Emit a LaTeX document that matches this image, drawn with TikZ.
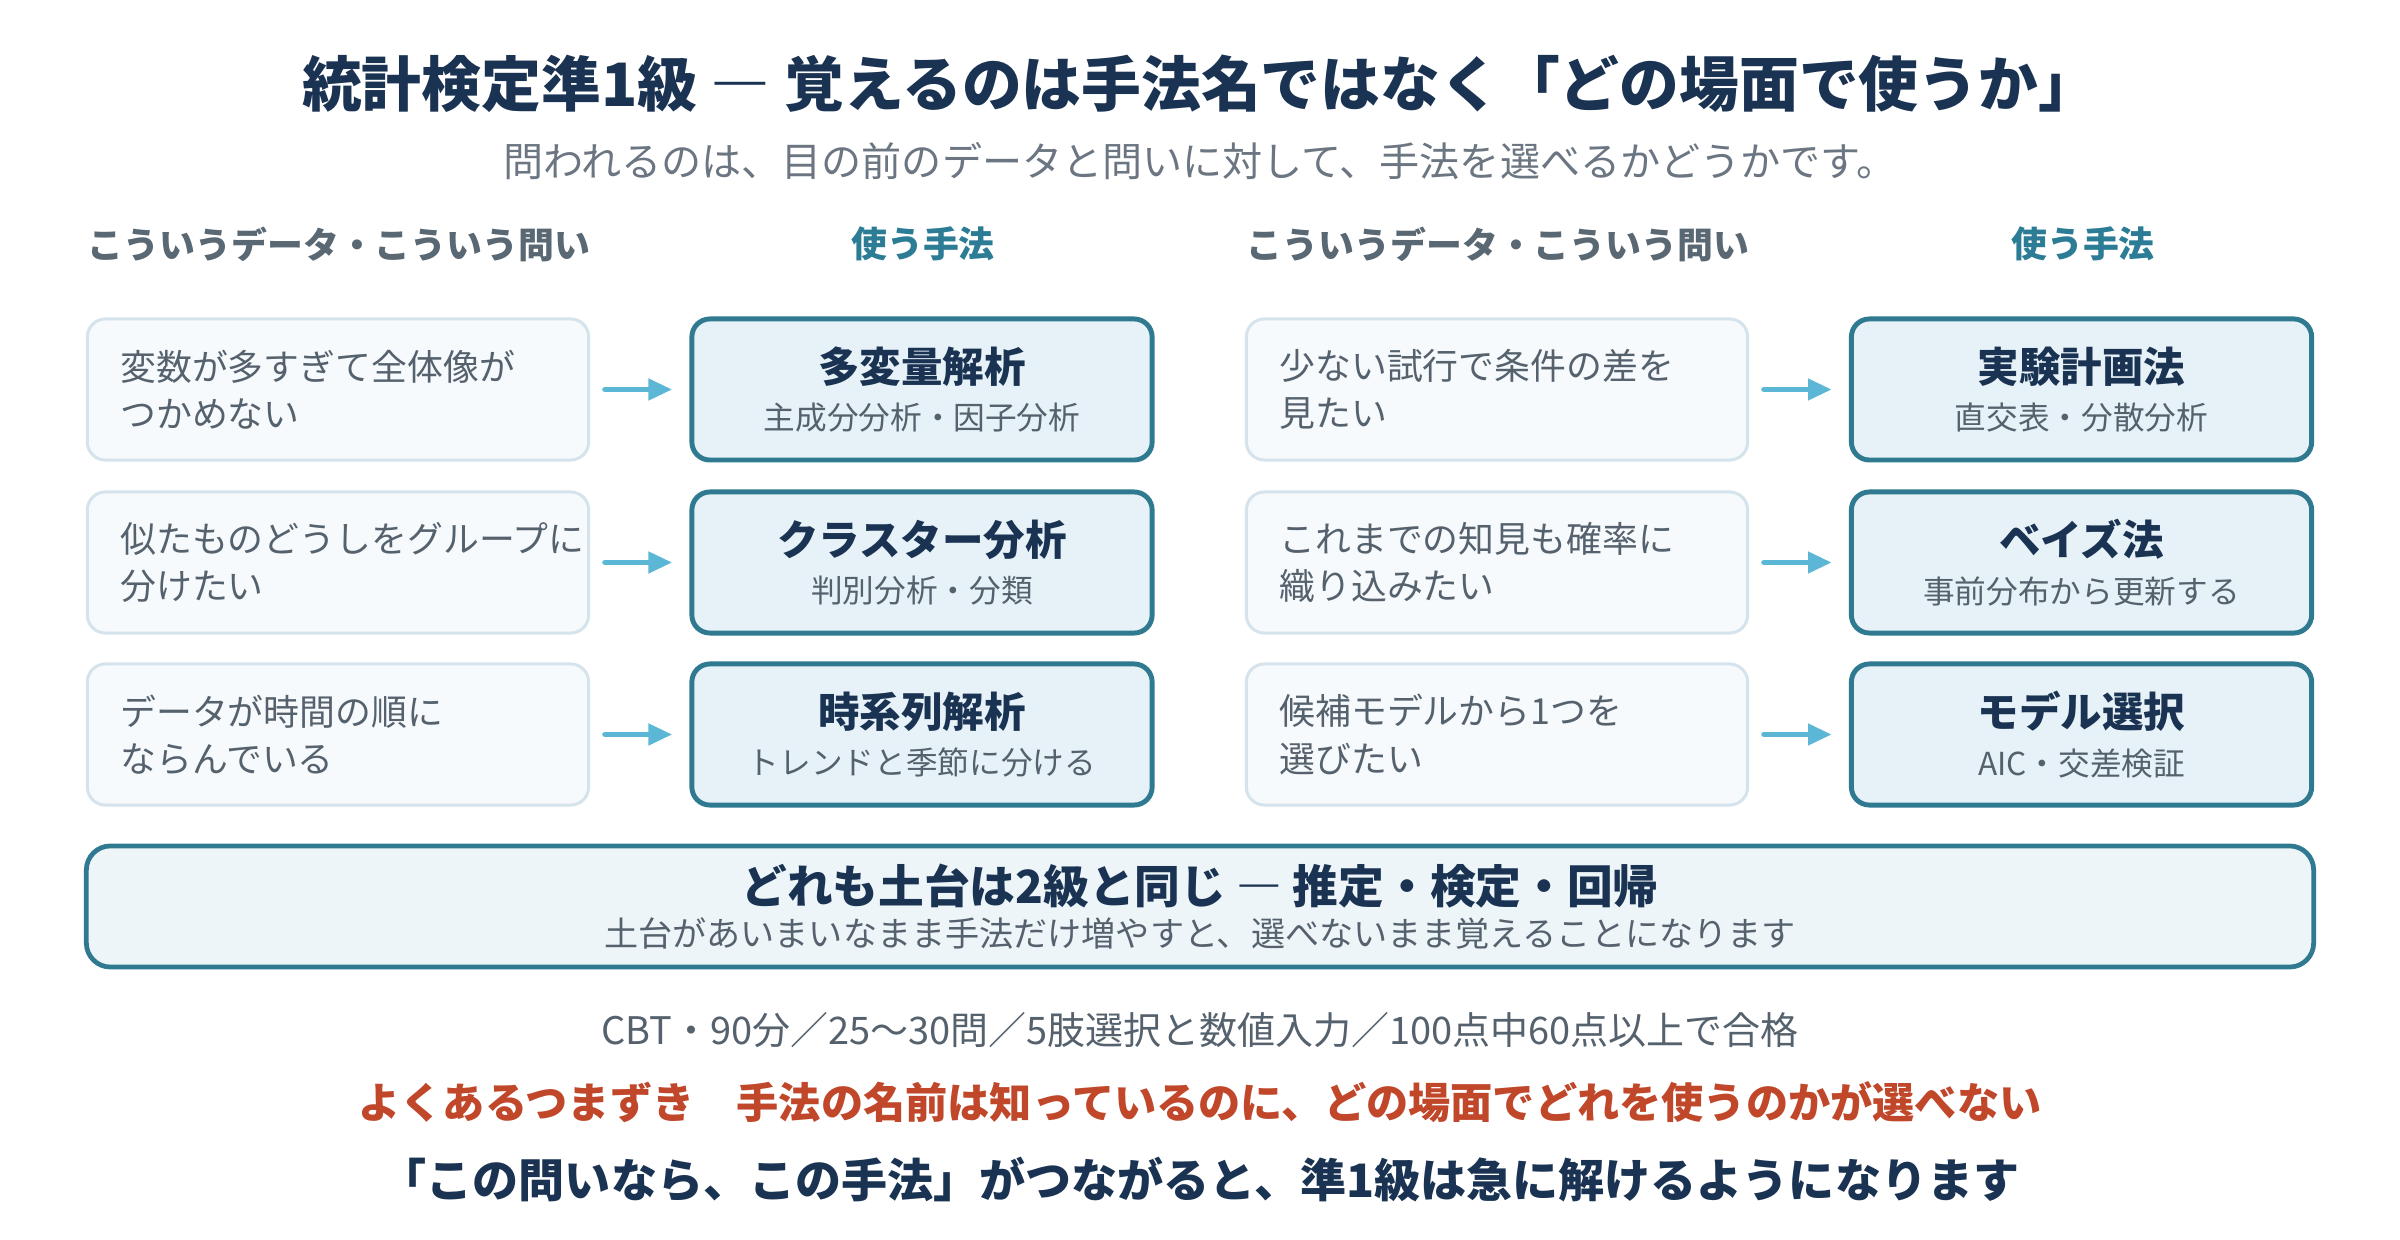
\documentclass[tikz,border=0pt]{standalone}
\usepackage{fontspec}
\setmainfont{Noto Sans CJK JP}
\usepackage{xcolor}
\usetikzlibrary{arrows.meta, positioning}

\definecolor{navy}{HTML}{1B3352}
\definecolor{textgray}{HTML}{55626E}
\definecolor{subgray}{HTML}{6B7682}
\definecolor{headgray}{HTML}{5A6873}
\definecolor{tealtext}{HTML}{2B7C94}
\definecolor{tealline}{HTML}{2F7A90}
\definecolor{methfill}{HTML}{E6F2F7}
\definecolor{probfill}{HTML}{F7FAFC}
\definecolor{probline}{HTML}{D4E3EC}
\definecolor{arrowblue}{HTML}{5BB7D5}
\definecolor{basefill}{HTML}{EDF5F9}
\definecolor{warnred}{HTML}{C1472B}

\begin{document}
\begin{tikzpicture}[x=0.01cm, y=-0.01cm]
    % Define styles
    \tikzstyle{problem} = [rectangle, rounded corners=0.18cm, draw=probline, fill=probfill, line width=0.85pt, minimum width=5.01cm, minimum height=1.41cm, text width=4.35cm, inner xsep=0.33cm, align=left, text=textgray, font=\fontsize{10.2}{13.4}\selectfont]
    \tikzstyle{method} = [rectangle, rounded corners=0.18cm, draw=tealline, fill=methfill, line width=1.4pt, minimum width=4.6cm, minimum height=1.41cm, align=center, text=textgray, font=\fontsize{9}{13.5}\selectfont]
    \tikzstyle{flowarrow} = [-{Triangle[length=6.8pt, width=5.8pt]}, draw=arrowblue, line width=1.7pt, line cap=round, shorten <=0.15cm, shorten >=0.17cm]
    \tikzstyle{colhead} = [text=headgray, font=\fontsize{10.2}{12}\selectfont\bfseries]
    \tikzstyle{methhead} = [text=tealtext, font=\fontsize{10.2}{12}\selectfont\bfseries]
    \newcommand{\mtitle}[1]{{\fontsize{11.8}{14}\selectfont\bfseries\color{navy}#1}}

    \path[use as bounding box, fill=white] (0,0) rectangle (2400,1240);

    % Title
    \node[text=navy, font=\fontsize{17}{20}\selectfont\bfseries] (title) at (1200,84) {統計検定準1級 ― 覚えるのは手法名ではなく「どの場面で使うか」};
    \node[text=subgray, font=\fontsize{11.4}{14}\selectfont] (subtitle) at (1200,161) {問われるのは、目の前のデータと問いに対して、手法を選べるかどうかです。};

    % Column headers
    \node[colhead] (headL) at (339,244) {こういうデータ・こういう問い};
    \node[methhead] (headLm) at (923,244) {使う手法};
    \node[colhead] (headR) at (1498,244) {こういうデータ・こういう問い};
    \node[methhead] (headRm) at (2083,244) {使う手法};

    % Left column
    \node[problem] (q1) at (338,389.5) {変数が多すぎて全体像が\\つかめない};
    \node[method] (m1) at (922,389.5) {\mtitle{多変量解析}\\主成分分析・因子分析};
    \node[problem] (q2) at (338,562.5) {似たものどうしをグループに\\分けたい};
    \node[method] (m2) at (922,562.5) {\mtitle{クラスター分析}\\判別分析・分類};
    \node[problem] (q3) at (338,734.5) {データが時間の順に\\ならんでいる};
    \node[method] (m3) at (922,734.5) {\mtitle{時系列解析}\\トレンドと季節に分ける};

    \draw[flowarrow] (q1) -- (m1);
    \draw[flowarrow] (q2) -- (m2);
    \draw[flowarrow] (q3) -- (m3);

    % Right column
    \node[problem] (q4) at (1497,389.5) {少ない試行で条件の差を\\見たい};
    \node[method] (m4) at (2081.5,389.5) {\mtitle{実験計画法}\\直交表・分散分析};
    \node[problem] (q5) at (1497,562.5) {これまでの知見も確率に\\織り込みたい};
    \node[method] (m5) at (2081.5,562.5) {\mtitle{ベイズ法}\\事前分布から更新する};
    \node[problem] (q6) at (1497,734.5) {候補モデルから1つを\\選びたい};
    \node[method] (m6) at (2081.5,734.5) {\mtitle{モデル選択}\\AIC・交差検証};

    \draw[flowarrow] (q4) -- (m4);
    \draw[flowarrow] (q5) -- (m5);
    \draw[flowarrow] (q6) -- (m6);

    % Foundation
    \node[rectangle, rounded corners=0.24cm, draw=tealline, fill=basefill, line width=1.35pt, minimum width=22.26cm, minimum height=1.21cm, align=center, text=textgray, font=\fontsize{9.7}{12.35}\selectfont] (base) at (1200,906.5) {{\fontsize{13}{15}\selectfont\bfseries\color{navy}どれも土台は2級と同じ ― 推定・検定・回帰}\\土台があいまいなまま手法だけ増やすと、選べないまま覚えることになります};

    % Footer
    \node[text=textgray, font=\fontsize{10.8}{13}\selectfont] (exam) at (1200,1030) {CBT・90分／25〜30問／5肢選択と数値入力／100点中60点以上で合格};
    \node[text=warnred, font=\fontsize{12}{14}\selectfont\bfseries] (pitfall) at (1200,1102) {よくあるつまずき　手法の名前は知っているのに、どの場面でどれを使うのかが選べない};
    \node[text=navy, font=\fontsize{13.1}{16}\selectfont\bfseries] (message) at (1200,1180) {「この問いなら、この手法」がつながると、準1級は急に解けるようになります};
\end{tikzpicture}
\end{document}
